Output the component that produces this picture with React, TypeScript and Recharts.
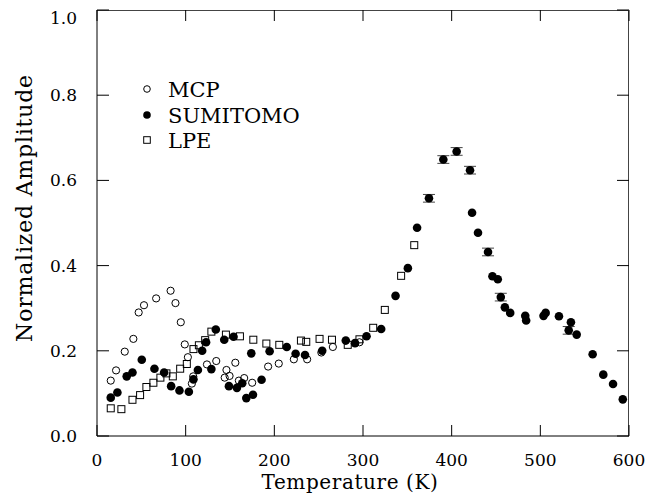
import React from 'react';
import { ScatterChart, Scatter, XAxis, YAxis, ErrorBar, Customized } from 'recharts';

// MCP (open circles)
const mcpT = [15.5, 21.5, 31.3, 41, 47, 53, 66.7, 83, 88.5, 94.5, 99, 102.5, 108.5, 107, 124, 134.5, 146, 144, 149.5, 156, 160, 166, 175, 193, 205, 222, 237, 253, 266, 296];
const mcpV = [0.130, 0.154, 0.198, 0.228, 0.290, 0.307, 0.323, 0.341, 0.312, 0.267, 0.215, 0.185, 0.140, 0.123, 0.168, 0.176, 0.155, 0.137, 0.141, 0.172, 0.130, 0.136, 0.125, 0.163, 0.170, 0.180, 0.180, 0.196, 0.209, 0.220];

// SUMITOMO (filled circles)
const sumT = [15.5, 23, 33.5, 40, 50.5, 64.8, 75.7, 83.6, 93, 103.6, 108.8, 113.8, 118.6, 123, 129, 134, 143.5, 154, 148.8, 157.8, 163.8, 168.4, 175.9, 185.6, 174, 194.7, 214, 224, 234.6, 254, 280.6, 291, 304, 320.5, 336.7, 350.6, 361, 374.4, 390.6, 405.6, 420.7, 423, 429.7, 441, 446, 452, 455.4, 460, 466, 483, 484, 503.6, 506, 521, 534.5, 532, 541, 559, 571, 582, 593];
const sumV = [0.090, 0.102, 0.140, 0.149, 0.179, 0.158, 0.149, 0.117, 0.107, 0.104, 0.133, 0.155, 0.200, 0.220, 0.157, 0.250, 0.226, 0.233, 0.117, 0.113, 0.124, 0.089, 0.097, 0.132, 0.194, 0.199, 0.209, 0.193, 0.190, 0.200, 0.224, 0.218, 0.234, 0.251, 0.329, 0.394, 0.489, 0.558, 0.649, 0.668, 0.624, 0.524, 0.477, 0.432, 0.375, 0.368, 0.326, 0.302, 0.289, 0.282, 0.271, 0.282, 0.289, 0.281, 0.267, 0.248, 0.238, 0.192, 0.144, 0.122, 0.086];
const sumErr = [0, 0, 0, 0, 0, 0, 0, 0, 0, 0, 0, 0, 0, 0, 0, 0, 0, 0, 0, 0, 0, 0, 0, 0, 0, 0, 0, 0, 0, 0, 0, 0, 0, 0, 0, 0, 0, 0.009, 0.009, 0.009, 0.009, 0, 0, 0.009, 0, 0, 0.009, 0, 0, 0, 0, 0, 0, 0, 0, 0.009, 0, 0, 0, 0, 0];

// LPE (open squares)
const lpeT = [15.5, 27.5, 40, 48.6, 55.7, 63.6, 71.5, 78.3, 85.5, 93.8, 101.3, 108.8, 114.9, 122, 129, 145.4, 161.2, 176.3, 191, 205.6, 230, 236, 251, 265, 282.8, 296, 311.5, 324.6, 343, 357.8];
const lpeV = [0.065, 0.063, 0.085, 0.096, 0.115, 0.125, 0.137, 0.147, 0.140, 0.158, 0.169, 0.204, 0.213, 0.225, 0.245, 0.238, 0.234, 0.226, 0.217, 0.214, 0.224, 0.221, 0.228, 0.226, 0.214, 0.227, 0.254, 0.296, 0.376, 0.448];

const xTicks = [0, 100, 200, 300, 400, 500, 600];
const yTicks = [0, 0.2, 0.4, 0.6, 0.8, 1.0];
const legendLabels = ['MCP', 'SUMITOMO', 'LPE'];
const xLabel = 'Temperature (K)';
const yLabel = 'Normalized  Amplitude';

const FONT = 'DejaVu Serif';
const X_MAX = 600;
const Y_MAX = 1;

// chart layout
const W = 654;
const H = 492;
const MARGIN = { top: 2, right: 33, bottom: 0, left: 29 };
const Y_AXIS_W = 60;
const X_AXIS_H = 64;
const PLOT = {
  left: MARGIN.left + Y_AXIS_W,
  top: MARGIN.top,
  right: W - MARGIN.right,
  bottom: H - MARGIN.bottom - X_AXIS_H,
};

const toPoints = (ts: number[], vs: number[], es?: number[]) =>
  ts.map((x, i) => ({ x, y: vs[i], err: es && es[i] ? es[i] : undefined }));

const mcpData = toPoints(mcpT, mcpV);
const sumData = toPoints(sumT, sumV, sumErr);
const lpeData = toPoints(lpeT, lpeV);

const OpenCircle = (p: any) => (
  <circle cx={p.cx} cy={p.cy} r={3.6} fill="none" stroke="#000" strokeWidth={1} />
);
const FilledCircle = (p: any) => <circle cx={p.cx} cy={p.cy} r={4.3} fill="#000" />;
const OpenSquare = (p: any) => (
  <rect x={p.cx - 3.5} y={p.cy - 3.5} width={7} height={7} fill="none" stroke="#000" strokeWidth={1} />
);

const Decorations = () => {
  const lx = 139;
  const rows = [81, 107, 132];
  const pw = PLOT.right - PLOT.left;
  const ph = PLOT.bottom - PLOT.top;
  return (
    <g>
      <path
        d={`M${PLOT.left},${PLOT.top + 0.5}H${PLOT.right - 0.5}V${PLOT.bottom}`}
        fill="none"
        stroke="#444"
        strokeWidth={1}
      />
      {xTicks.map((t) => {
        const x = PLOT.left + (t / X_MAX) * pw;
        return <line key={'tx' + t} x1={x} x2={x} y1={PLOT.top} y2={PLOT.top + 11} stroke="#000" strokeWidth={1} />;
      })}
      {yTicks.map((t) => {
        const y = PLOT.bottom - (t / Y_MAX) * ph;
        return <line key={'ty' + t} x1={PLOT.right} x2={PLOT.right - 12} y1={y} y2={y} stroke="#000" strokeWidth={1} />;
      })}
      <circle cx={lx} cy={rows[0]} r={3.3} fill="none" stroke="#000" strokeWidth={1} />
      <circle cx={lx} cy={rows[1]} r={3.8} fill="#000" />
      <rect x={lx - 3.3} y={rows[2] - 3.3} width={6.6} height={6.6} fill="none" stroke="#000" strokeWidth={1} />
      {legendLabels.map((t, i) => (
        <text key={t} x={lx + 21} y={rows[i] + 7.5} fontFamily={FONT} fontSize={21} fill="#000">
          {t}
        </text>
      ))}
      <text x={342} y={481} textAnchor="middle" fontFamily={FONT} fontSize={20} letterSpacing={0.6} fill="#000">
        {xLabel}
      </text>
      <text
        x={0}
        y={0}
        transform={`translate(24, 200) rotate(-90)`}
        textAnchor="middle"
        fontFamily={FONT}
        fontSize={22}
        letterSpacing={0.8}
        fill="#000"
      >
        {yLabel}
      </text>
    </g>
  );
};

export default function App() {
  return (
    <ScatterChart width={W} height={H} margin={MARGIN}>
      <XAxis
        dataKey="x"
        type="number"
        domain={[0, X_MAX]}
        ticks={xTicks}
        allowDataOverflow
        height={X_AXIS_H}
        tickSize={-11}
        tickMargin={29}
        axisLine={{ stroke: '#000', strokeWidth: 1 }}
        tickLine={{ stroke: '#000', strokeWidth: 1 }}
        tick={{ fontFamily: FONT, fontSize: 17, fill: '#000' }}
      />
      <YAxis
        dataKey="y"
        type="number"
        domain={[0, Y_MAX]}
        ticks={yTicks}
        allowDataOverflow
        width={Y_AXIS_W}
        tickSize={-12}
        tickMargin={32}
        tickFormatter={(v: number) => v.toFixed(1)}
        axisLine={{ stroke: '#000', strokeWidth: 1 }}
        tickLine={{ stroke: '#000', strokeWidth: 1 }}
        tick={{ fontFamily: FONT, fontSize: 17, fill: '#000' }}
      />
      <Scatter name="LPE" data={lpeData} shape={OpenSquare} isAnimationActive={false} />
      <Scatter name="MCP" data={mcpData} shape={OpenCircle} isAnimationActive={false} />
      <Scatter name="SUMITOMO" data={sumData} shape={FilledCircle} isAnimationActive={false}>
        <ErrorBar dataKey="err" direction="y" width={6} stroke="#444" strokeWidth={1} />
      </Scatter>
      <Customized component={Decorations} />
    </ScatterChart>
  );
}
